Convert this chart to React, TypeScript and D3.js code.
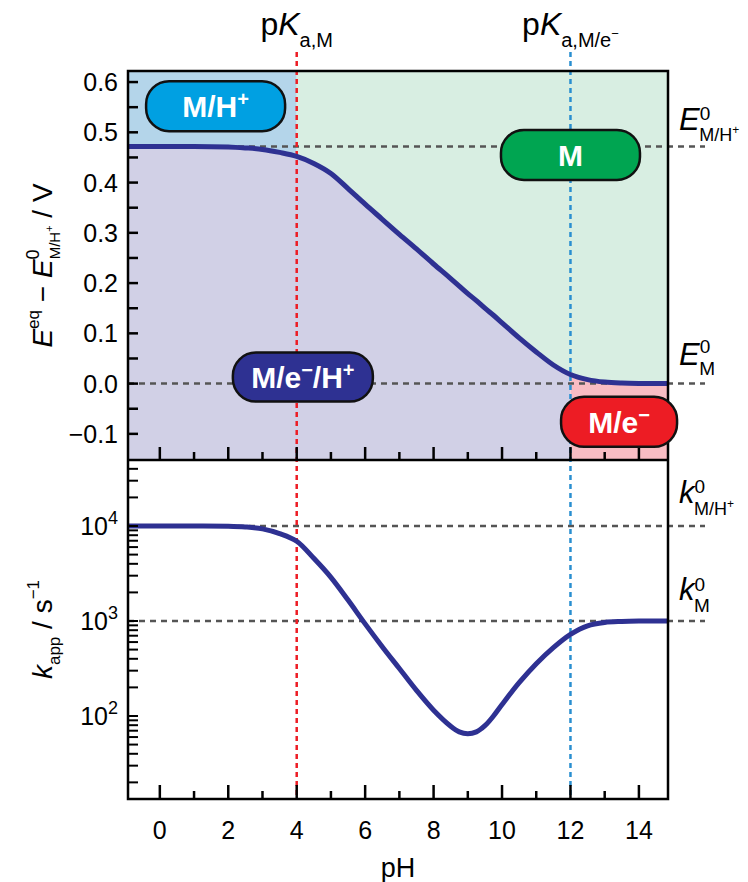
import React from "react";
import * as d3 from "d3";

// ---------- data ----------
const pH = [-0.93, 0, 1, 2, 2.5, 3, 3.5, 4, 4.5, 5, 5.5, 6, 6.5, 7, 7.5, 8, 8.5, 8.75, 9, 9.25, 9.5, 9.75, 10, 10.5, 11, 11.5, 12, 12.5, 13, 13.5, 14, 14.85];
const Eeq = [0.472, 0.472, 0.472, 0.471, 0.469, 0.466, 0.46, 0.452, 0.438, 0.418, 0.388, 0.357, 0.327, 0.297, 0.268, 0.238, 0.209, 0.194, 0.179, 0.165, 0.15, 0.136, 0.121, 0.091, 0.063, 0.037, 0.018, 0.008, 0.003, 0.001, 0.0003, 0];
const kApp = [10000, 10000, 10000, 9950, 9770, 9330, 8320, 6920, 4570, 2880, 1660, 933, 537, 316, 186, 115, 78, 68, 65, 68, 79, 100, 132, 224, 355, 525, 724, 891, 966, 989, 998, 1000];

const xTicks = [0, 2, 4, 6, 8, 10, 12, 14];
const eTicks = [-0.1, 0.0, 0.1, 0.2, 0.3, 0.4, 0.5, 0.6];
const kTickExps = [2, 3, 4];

const pKaM = 4;
const pKaMe = 12;
const E0MH = 0.472;
const E0M = 0;
const k0MH = 10000;
const k0M = 1000;

// ---------- layout ----------
const W = 748, H = 882;
const L = 128, R = 668, T = 71, MID = 460, B = 799;
const FONT = "'Liberation Sans', Arial, Helvetica, sans-serif";
const NAVY = "#2e3192";

const x = d3.scaleLinear().domain([-0.93, 14.85]).range([L, R]);
const yE = d3.scaleLinear().domain([-0.152, 0.622]).range([MID, T]);
const yK = d3.scaleLog().domain([Math.pow(10, 1.126), Math.pow(10, 4.695)]).range([B, MID]);

const eData = pH.map((p, i) => ({ p, v: Eeq[i] }));
const kData = pH.map((p, i) => ({ p, v: kApp[i] }));

const eLine = d3.line<any>().x(d => x(d.p)).y(d => yE(d.v)).curve(d3.curveMonotoneX);
const kLine = d3.line<any>().x(d => x(d.p)).y(d => yK(d.v)).curve(d3.curveCatmullRom.alpha(0.5));
const aboveArea = d3.area<any>().x(d => x(d.p)).y0(T).y1(d => yE(d.v)).curve(d3.curveMonotoneX);
const belowArea = d3.area<any>().x(d => x(d.p)).y0(MID).y1(d => yE(d.v)).curve(d3.curveMonotoneX);

function Box({ cx, cy, w, h, fill, children }: any) {
  return (
    <g>
      <rect x={cx - w / 2} y={cy - h / 2} width={w} height={h} rx={23} ry={23} fill={fill} stroke="#111" strokeWidth={2.5} />
      <text x={cx} y={cy + 11} textAnchor="middle" fontFamily={FONT} fontWeight="bold" fontSize={30} fill="#fff">
        {children}
      </text>
    </g>
  );
}

export default function App() {
  const xAll = d3.range(-0, 15);
  const eMinor = d3.range(-0.1, 0.61, 0.05);
  const kMinor: number[] = [];
  for (let e = 1; e <= 4; e++) for (let m = 1; m <= 9; m++) {
    const v = m * Math.pow(10, e);
    if (v >= yK.domain()[0] && v <= yK.domain()[1]) kMinor.push(v);
  }
  const gray = "#555";
  return (
    <svg width={W} height={H} style={{ position: "absolute", left: 0, top: 0, background: "#fff" }} fontFamily={FONT}>
      <defs>
        <clipPath id="above"><path d={aboveArea(eData) || ""} /></clipPath>
        <clipPath id="below"><path d={belowArea(eData) || ""} /></clipPath>
      </defs>
      {/* region fills */}
      <rect x={L} y={T} width={x(pKaM) - L} height={MID - T} fill="#b4d5ea" clipPath="url(#above)" />
      <rect x={x(pKaM)} y={T} width={R - x(pKaM)} height={MID - T} fill="#d8eee2" clipPath="url(#above)" />
      <rect x={L} y={T} width={x(pKaMe) - L} height={MID - T} fill="#d1d0e6" clipPath="url(#below)" />
      <rect x={x(pKaMe)} y={T} width={R - x(pKaMe)} height={MID - T} fill="#f8bcc3" clipPath="url(#below)" />

      {/* horizontal reference dashes */}
      {[yE(E0MH), yE(E0M), yK(k0MH), yK(k0M)].map((yy, i) => (
        <line key={i} x1={L} x2={705} y1={yy} y2={yy} stroke={gray} strokeWidth={2.5} strokeDasharray="6,5" />
      ))}
      {/* vertical pKa dashes */}
      <line x1={x(pKaM)} x2={x(pKaM)} y1={52} y2={B} stroke="#ed1c24" strokeWidth={2.5} strokeDasharray="5,4" />
      <line x1={x(pKaMe)} x2={x(pKaMe)} y1={52} y2={B} stroke="#2a8fd0" strokeWidth={2.5} strokeDasharray="5,4" />

      {/* curves */}
      <path d={eLine(eData) || ""} fill="none" stroke={NAVY} strokeWidth={5} />
      <path d={kLine(kData) || ""} fill="none" stroke={NAVY} strokeWidth={5} />

      {/* ticks: x axis (bottom of each panel) */}
      {xAll.map(v => (
        <g key={"xt" + v}>
          <line x1={x(v)} x2={x(v)} y1={B} y2={B - (v % 2 === 0 ? 14 : 8)} stroke="#000" strokeWidth={2.5} />
          <line x1={x(v)} x2={x(v)} y1={MID} y2={MID - (v % 2 === 0 ? 13 : 8)} stroke="#000" strokeWidth={2.5} />
        </g>
      ))}
      {eMinor.map((v, i) => (
        <line key={"et" + i} x1={L} x2={L + 10} y1={yE(v)} y2={yE(v)} stroke="#000" strokeWidth={2.5} />
      ))}
      {kMinor.map((v, i) => (
        <line key={"kt" + i} x1={L} x2={L + 10} y1={yK(v)} y2={yK(v)} stroke="#000" strokeWidth={2} />
      ))}

      {/* frames */}
      <rect x={L} y={T} width={R - L} height={B - T} fill="none" stroke="#000" strokeWidth={2.5} />
      <line x1={L} x2={R} y1={MID} y2={MID} stroke="#000" strokeWidth={2.5} />

      {/* tick labels */}
      {eTicks.map(v => (
        <text key={"el" + v} x={118} y={yE(v) + 9} textAnchor="end" fontSize={25}>
          {(v < 0 ? "\u2212" : "") + Math.abs(v).toFixed(1)}
        </text>
      ))}
      {kTickExps.map(e => (
        <text key={"kl" + e} x={118} y={yK(Math.pow(10, e)) + 9} textAnchor="end" fontSize={25}>
          10<tspan fontSize={18} dy={-11}>{e}</tspan>
        </text>
      ))}
      {xTicks.map(v => (
        <text key={"xl" + v} x={x(v)} y={839} textAnchor="middle" fontSize={25}>{v}</text>
      ))}
      <text x={(L + R) / 2} y={877} textAnchor="middle" fontSize={27}>pH</text>

      {/* axis titles */}
      <text transform={`translate(52,${(T + MID) / 2}) rotate(-90)`} textAnchor="middle" fontSize={28}>
        <tspan fontStyle="italic">E</tspan>
        <tspan fontSize={17} dy={-13}>eq</tspan>
        <tspan dy={13}>{" \u2212 "}</tspan>
        <tspan fontStyle="italic">E</tspan>
        <tspan fontSize={18} dy={-13}>0</tspan>
        <tspan fontSize={15} dx={-10} dy={21}>M/H</tspan>
        <tspan fontSize={11} dy={-7}>+</tspan>
        <tspan dy={-1}>{" / V"}</tspan>
      </text>
      <text transform={`translate(52,${(MID + B) / 2}) rotate(-90)`} textAnchor="middle" fontSize={28}>
        <tspan fontStyle="italic">k</tspan>
        <tspan fontSize={17} dy={8}>app</tspan>
        <tspan dy={-8}>{" / s"}</tspan>
        <tspan fontSize={17} dy={-13}>{"\u22121"}</tspan>
      </text>

      {/* top labels */}
      <text x={x(pKaM)} y={35} textAnchor="middle" fontSize={32}>
        p<tspan fontStyle="italic">K</tspan>
        <tspan fontSize={20} dy={12}>a,M</tspan>
      </text>
      <text x={x(pKaMe)} y={35} textAnchor="middle" fontSize={32}>
        p<tspan fontStyle="italic">K</tspan>
        <tspan fontSize={20} dy={12}>a,M/e</tspan>
        <tspan fontSize={13} dy={-9}>{"\u2212"}</tspan>
      </text>

      {/* right labels */}
      <text x={679} y={130} fontSize={31}>
        <tspan fontStyle="italic">E</tspan>
        <tspan fontSize={19} dy={-10}>0</tspan>
        <tspan fontSize={18} dx={-11} dy={21}>M/H</tspan>
        <tspan fontSize={12} dy={-7}>+</tspan>
      </text>
      <text x={679} y={365} fontSize={31}>
        <tspan fontStyle="italic">E</tspan>
        <tspan fontSize={19} dy={-12}>0</tspan>
        <tspan fontSize={19} dx={-11} dy={22}>M</tspan>
      </text>
      <text x={679} y={503} fontSize={31}>
        <tspan fontStyle="italic">k</tspan>
        <tspan fontSize={19} dy={-10}>0</tspan>
        <tspan fontSize={18} dx={-11} dy={22}>M/H</tspan>
        <tspan fontSize={12} dy={-7}>+</tspan>
      </text>
      <text x={679} y={600} fontSize={31}>
        <tspan fontStyle="italic">k</tspan>
        <tspan fontSize={19} dy={-9}>0</tspan>
        <tspan fontSize={19} dx={-11} dy={21}>M</tspan>
      </text>

      {/* species boxes */}
      <Box cx={x(1.63)} cy={yE(0.552)} w={139} h={50} fill="#00a0e2">
        M/H<tspan fontSize={20} dy={-11}>+</tspan>
      </Box>
      <Box cx={x(12.0)} cy={yE(0.455)} w={139} h={50} fill="#00a551">M</Box>
      <Box cx={x(4.18)} cy={yE(0.013)} w={140} h={49} fill={NAVY}>
        M/e<tspan fontSize={20} dy={-11}>{"\u2212"}</tspan>
        <tspan dy={11}>/H</tspan>
        <tspan fontSize={20} dy={-11}>+</tspan>
      </Box>
      <Box cx={x(13.42)} cy={yE(-0.076)} w={116} h={50} fill="#ed1c24">
        M/e<tspan fontSize={20} dy={-11}>{"\u2212"}</tspan>
      </Box>
    </svg>
  );
}
